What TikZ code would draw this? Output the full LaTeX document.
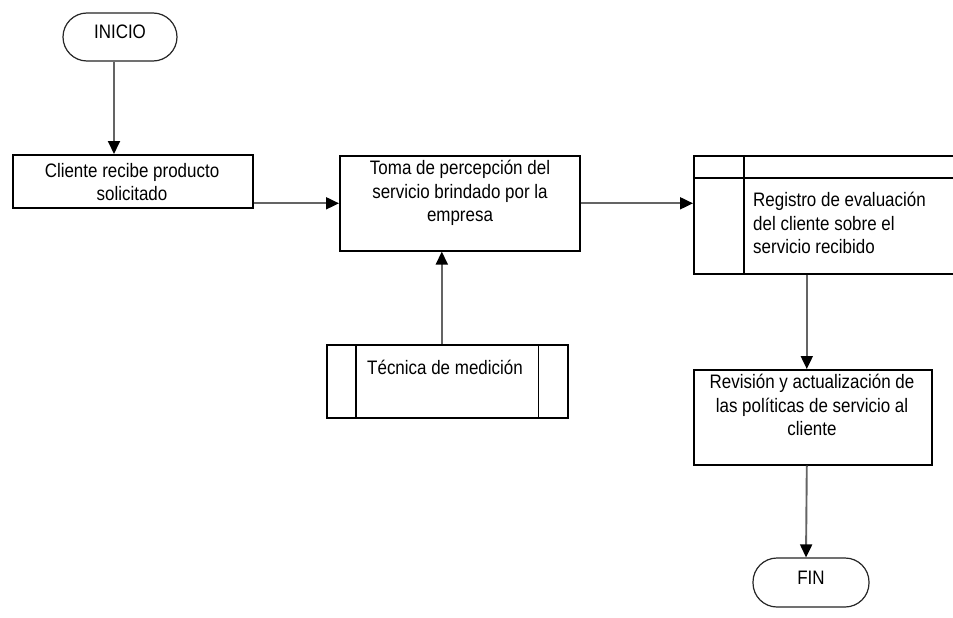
\documentclass[tikz,border=0pt]{standalone}
\usepackage{fontspec}
\setmainfont{Liberation Sans}[FakeStretch=0.87]
\usetikzlibrary{arrows.meta}
\begin{document}
\begin{tikzpicture}[x=1pt,y=-1pt,
  box/.style={draw=black, line width=1.6pt, fill=white, inner sep=0pt, anchor=north west},
  rule/.style={draw=black, line width=1.6pt},
  term/.style={draw=black!85, line width=1.2pt, rounded corners=24pt, inner sep=0pt,
    text height=14pt, text depth=10pt, font=\fontsize{19.5}{23.5}\selectfont},
  lbl/.style={inner sep=0pt, font=\fontsize{19.5}{23.5}\selectfont, align=center},
  flow/.style={draw={rgb,255:red,100;green,100;blue,100}, line width=1.9pt,
    -{Triangle[length=13pt,width=12pt,black]}}
]
\useasboundingbox (0,0) rectangle (953,618);
\clip (0,0) rectangle (953,618);
\fill[white] (0,0) rectangle (953,618);

% terminals
\node[term, minimum width=114pt, minimum height=48pt] (ini) at (120,37) {INICIO};
\node[term, minimum width=116pt, minimum height=49pt] (fin) at (811,582.5) {FIN};

% process boxes
\node[box, minimum width=240pt, minimum height=53pt] (b1) at (12,154) {};
\node[box, minimum width=240pt, minimum height=95pt] (b2) at (339,155) {};
\node[box, minimum width=300pt, minimum height=118pt] (b3) at (693,155) {};
\node[box, minimum width=238pt, minimum height=95pt] (b4) at (693,369) {};
\node[box, minimum width=241pt, minimum height=73pt] (b5) at (326,344) {};

% inner rules of the register and the predefined-process boxes
\draw[rule] ([yshift=-23pt]b3.north west) -- ([yshift=-23pt]b3.north east);
\draw[rule] ([xshift=51pt]b3.north west) -- ([xshift=51pt]b3.south west);
\draw[rule] ([xshift=30pt]b5.north west) -- ([xshift=30pt]b5.south west);
\draw[rule] ([xshift=-30pt]b5.north east) -- ([xshift=-30pt]b5.south east);

% texts
\node[lbl, anchor=north] (t1) at (132,163) {Cliente recibe producto\\solicitado};
\node[lbl, anchor=north] (t2) at (460,160) {Toma de percepción del\\servicio brindado por la\\empresa};
\node[lbl, anchor=north west, align=left] (t3) at (753,192) {Registro de evaluación\\del cliente sobre el\\servicio recibido};
\node[lbl, anchor=north] (t4) at (812,374) {Revisión y actualización de\\las políticas de servicio al\\cliente};
\node[lbl, anchor=north] (t5) at (445,360) {Técnica de medición};

% connectors
\draw[flow] ([xshift=-6pt]ini.south) -- ([xshift=-6pt]ini.south |- b1.north);
\draw[flow] (b1.east |- b2.west) -- (b2.west);
\draw[flow] (b2.east) -- (b3.west |- b2.east);
\draw[flow] ([xshift=-5.5pt]b5.north) -- ([xshift=-5.5pt]b5.north |- b2.south);
\draw[flow] ([xshift=-6pt]b4.north |- b3.south) -- ([xshift=-6pt]b4.north);
\draw[flow] ([xshift=-6pt]b4.south) -- ([xshift=-5pt]fin.north);
\end{tikzpicture}
\end{document}
